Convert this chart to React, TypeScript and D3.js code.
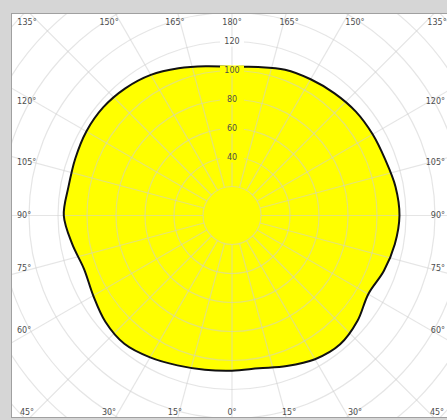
import React from "react";
import * as d3 from "d3";

// Luminous intensity, angle measured from nadir (0°) to zenith (180°)
const anglesDeg = [0, 10, 20, 30, 40, 50, 60, 70, 80, 90, 100, 110, 120, 130, 140, 150, 160, 170, 180];
const leftValues = [107, 108, 110, 113, 115.5, 114, 110.5, 108.5, 112, 116, 114.5, 115, 116, 116, 114.5, 112, 108, 104.5, 102.5];
const rightValues = [107, 107, 110.5, 114.5, 116, 113, 108.5, 111.5, 114, 115.5, 114.5, 112.5, 112, 111.5, 110, 108.5, 107, 104, 102.5];

const radiusTicks = [40, 60, 80, 100, 120];
const gridCircles = [20, 40, 60, 80, 100, 120, 140, 160, 180, 200, 220];
const spokeAngles = d3.range(0, 360, 15);
const topLabels = [135, 150, 165, 180, 165, 150, 135];
const bottomLabels = [45, 30, 15, 0, 15, 30, 45];
const sideLabels = [120, 105, 90, 75, 60];

const W = 447;
const H = 420;
const cx = 232;
const cy = 215.5;
const plot = { x0: 11, y0: 13, x1: 453, y1: 418 };

export default function App() {
  const r = d3.scaleLinear().domain([0, 120]).range([0, 174]);
  const rad = (d: number) => (d * Math.PI) / 180;

  // Build closed outline: right half from zenith to nadir, then left half from nadir to zenith
  const pts: [number, number][] = [];
  for (let i = anglesDeg.length - 1; i >= 0; i--) {
    pts.push([Math.PI - rad(anglesDeg[i]), r(rightValues[i])]);
  }
  for (let i = 1; i < anglesDeg.length - 1; i++) {
    pts.push([Math.PI + rad(anglesDeg[i]), r(leftValues[i])]);
  }
  const line = d3
    .lineRadial<[number, number]>()
    .angle((d) => d[0])
    .radius((d) => d[1])
    .curve(d3.curveCatmullRomClosed.alpha(0.5));
  const pathD = line(pts) || "";

  const font = "'DejaVu Sans', Verdana, sans-serif";
  const labelColor = "#4d4d4d";
  const gridStroke = "#cfcfcf";
  const gridOpacity = 0.55;

  const topVal = rightValues[rightValues.length - 1];

  const colX = (a: number, i: number) => {
    const side = i < 3 ? -1 : i > 3 ? 1 : 0;
    const off = Math.min(213 * Math.tan(rad(a === 180 || a === 0 ? 0 : Math.abs(90 - Math.abs(a - 90)))), 205);
    return cx + side * off;
  };

  return (
    <svg width={W} height={H} style={{ position: "absolute", left: 0, top: 0 }} xmlns="http://www.w3.org/2000/svg">
      <defs>
        <clipPath id="plotClip">
          <rect x={plot.x0} y={plot.y0} width={plot.x1 - plot.x0} height={plot.y1 - plot.y0} />
        </clipPath>
      </defs>
      <rect x={0} y={0} width={W} height={H} fill="#d6d6d6" />
      <rect x={plot.x0} y={plot.y0} width={plot.x1 - plot.x0} height={plot.y1 - plot.y0} fill="#ffffff" />
      <g clipPath="url(#plotClip)">
        <g transform={`translate(${cx},${cy})`}>
          <path d={pathD} fill="#ffff00" />
          {gridCircles.map((v) => (
            <circle key={v} r={r(v)} fill="none" stroke={gridStroke} strokeOpacity={gridOpacity} strokeWidth={1.2} />
          ))}
          {spokeAngles.map((a) => (
            <line
              key={a}
              x1={r(20) * Math.sin(rad(a))}
              y1={r(20) * Math.cos(rad(a))}
              x2={r(240) * Math.sin(rad(a))}
              y2={r(240) * Math.cos(rad(a))}
              stroke={gridStroke}
              strokeOpacity={gridOpacity}
              strokeWidth={1.2}
            />
          ))}
          <path d={pathD} fill="none" stroke="#111" strokeWidth={2} strokeLinejoin="round" />
          {radiusTicks.map((v) => (
            <g key={v} transform={`translate(0,${-r(v)})`}>
              <rect x={-12} y={-5} width={24} height={10} fill={v < topVal ? "#ffff00" : "#ffffff"} />
              <text textAnchor="middle" dy="0.35em" fontFamily={font} fontSize={8} fill={labelColor}>
                {v}
              </text>
            </g>
          ))}
        </g>
      </g>
      <rect x={plot.x0 + 0.5} y={plot.y0 + 0.5} width={plot.x1 - plot.x0} height={plot.y1 - plot.y0 - 1} fill="none" stroke="#a0a0a0" strokeWidth={1} />
      {topLabels.map((a, i) => (
        <text key={"t" + i} x={colX(a, i)} y={25} textAnchor="middle" fontFamily={font} fontSize={8} fill={labelColor}>
          {a}°
        </text>
      ))}
      {bottomLabels.map((a, i) => (
        <text key={"b" + i} x={colX(a, i)} y={415} textAnchor="middle" fontFamily={font} fontSize={8} fill={labelColor}>
          {a}°
        </text>
      ))}
      {sideLabels.map((a) => {
        const y = cy + 198 * Math.tan(rad(90 - a));
        return (
          <g key={"s" + a}>
            <text x={17} y={y} dy="0.35em" textAnchor="start" fontFamily={font} fontSize={8} fill={labelColor}>
              {a}°
            </text>
            <text x={445} y={y} dy="0.35em" textAnchor="end" fontFamily={font} fontSize={8} fill={labelColor}>
              {a}°
            </text>
          </g>
        );
      })}
    </svg>
  );
}
